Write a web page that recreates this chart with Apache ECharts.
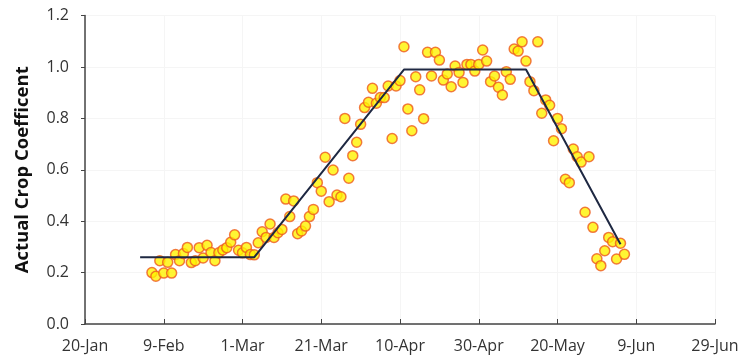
<!DOCTYPE html>
<html>
<head>
<meta charset="utf-8">
<script src="https://cdn.jsdelivr.net/npm/echarts@6/dist/echarts.min.js"></script>
<style>
  html, body { margin: 0; padding: 0; background: #fff; }
  #chart { width: 756px; height: 360px; }
</style>
</head>
<body>
<div id="chart"></div>
<script>
// Observation dates as day of year (2013, non-leap year)
const obsDays = [
  37, 38, 39, 40, 41, 42, 43, 44, 45, 46, 47, 48, 49, 50, 51, 52, 53, 54, 55, 56,
  57, 58, 59, 60, 61, 62, 63, 64, 65, 66, 67, 68, 69, 70, 71, 72, 73, 74, 75, 76,
  77, 78, 79, 80, 81, 82, 83, 84, 85, 86, 87, 88, 89, 90, 91, 92, 93, 94, 95, 96,
  97, 98, 99, 100, 101, 102, 103, 104, 105, 106, 107, 108, 109, 110, 111, 112, 113, 114, 115, 116,
  117, 118, 119, 120, 121, 122, 123, 124, 125, 126, 127, 128, 129, 130, 131, 132, 133, 134, 135, 136,
  137, 138, 139, 140, 141, 142, 143, 144, 145, 146, 147, 148, 149, 150, 151, 152, 153, 154, 155, 156,
  157
];

// Measured actual crop coefficient for each observation day
const obsKc = [
  0.200, 0.186, 0.246, 0.198, 0.240, 0.198, 0.270, 0.246, 0.274, 0.298,
  0.239, 0.246, 0.297, 0.257, 0.306, 0.278, 0.246, 0.277, 0.288, 0.297,
  0.318, 0.347, 0.287, 0.277, 0.298, 0.270, 0.269, 0.316, 0.359, 0.337,
  0.389, 0.337, 0.355, 0.368, 0.486, 0.418, 0.479, 0.351, 0.362, 0.381,
  0.418, 0.446, 0.550, 0.517, 0.649, 0.476, 0.599, 0.502, 0.495, 0.800,
  0.567, 0.655, 0.707, 0.777, 0.842, 0.863, 0.917, 0.859, 0.881, 0.881,
  0.926, 0.722, 0.926, 0.947, 1.079, 0.837, 0.752, 0.962, 0.911, 0.799,
  1.057, 0.965, 1.057, 1.027, 0.949, 0.973, 0.923, 1.004, 0.979, 0.940,
  1.010, 1.010, 0.984, 1.010, 1.066, 1.023, 0.943, 0.965, 0.921, 0.891,
  0.982, 0.952, 1.070, 1.062, 1.098, 1.023, 0.943, 0.908, 1.098, 0.820,
  0.872, 0.851, 0.713, 0.800, 0.760, 0.563, 0.550, 0.681, 0.651, 0.630,
  0.435, 0.651, 0.376, 0.254, 0.227, 0.285, 0.337, 0.320, 0.253, 0.314,
  0.271
];

// Crop coefficient curve: initial, development, mid-season, late-season
const curveDays = [34, 63, 101, 132, 156];
const curveKc   = [0.26, 0.26, 0.99, 0.99, 0.31];

// Axis ticks (day of year) and y ticks
const xTickMin = 20, xTickMax = 180, xTickStep = 20;
const yTickMin = 0, yTickMax = 1.2, yTickStep = 0.2;

const monthNames = ['Jan', 'Feb', 'Mar', 'Apr', 'May', 'Jun', 'Jul', 'Aug', 'Sep', 'Oct', 'Nov', 'Dec'];
function dayLabel(doy) {
  const d = new Date(Date.UTC(2013, 0, doy));
  return d.getUTCDate() + '-' + monthNames[d.getUTCMonth()];
}

const scatterData = obsDays.map((d, i) => [d, obsKc[i]]);
const curveData = curveDays.map((d, i) => [d, curveKc[i]]);

const labelFont = { fontFamily: 'Open Sans', fontSize: 16, color: '#333333' };
const axisColor = '#444444';
const gridColor = '#f5f5f5';

const chart = echarts.init(document.getElementById('chart'), null, { renderer: 'canvas' });
chart.setOption({
  animation: false,
  backgroundColor: '#ffffff',
  grid: { left: 85, right: 41, top: 15.6, bottom: 36, containLabel: false },
  xAxis: {
    type: 'value',
    min: xTickMin, max: xTickMax, interval: xTickStep,
    axisLine: { show: true, lineStyle: { color: axisColor, width: 1.5 } },
    axisTick: { show: true, inside: true, length: 5, lineStyle: { color: axisColor, width: 1 } },
    axisLabel: Object.assign({ margin: 14, formatter: v => dayLabel(v) }, labelFont),
    splitLine: { show: true, lineStyle: { color: gridColor, width: 1 } }
  },
  yAxis: {
    type: 'value',
    min: yTickMin, max: yTickMax, interval: yTickStep,
    name: 'Actual Crop Coefficent',
    nameLocation: 'middle',
    nameGap: 53,
    nameTextStyle: { fontFamily: 'Open Sans', fontSize: 18.5, fontWeight: 'bold', color: '#111111' },
    axisLine: { show: true, lineStyle: { color: axisColor, width: 1.5 } },
    axisTick: { show: true, inside: false, length: 4, lineStyle: { color: axisColor, width: 1 } },
    axisLabel: Object.assign({ margin: 16, formatter: v => v.toFixed(1) }, labelFont),
    splitLine: { show: true, lineStyle: { color: gridColor, width: 1 } }
  },
  series: [
    {
      type: 'scatter',
      data: scatterData,
      symbol: 'circle',
      symbolSize: 10,
      itemStyle: { color: '#FFF200', borderColor: '#EE5A1E', borderWidth: 1.5 },
      z: 2
    },
    {
      type: 'line',
      data: curveData,
      showSymbol: false,
      symbol: 'none',
      lineStyle: { color: '#1E2842', width: 2 },
      z: 3
    }
  ]
});
</script>
</body>
</html>
